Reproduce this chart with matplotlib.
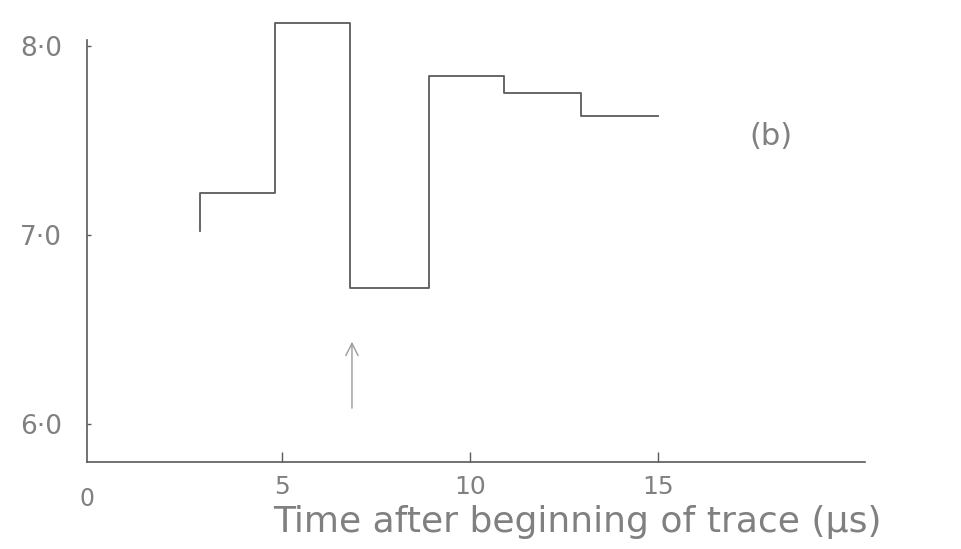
import matplotlib
matplotlib.use("Agg")
import matplotlib.pyplot as plt

# step edges (time, us) and level of each step
edges = [2.8, 4.8, 6.8, 8.9, 10.9, 12.95, 15.0]
levels = [7.22, 8.12, 6.72, 7.84, 7.75, 7.63]
start_level = 7.02

xticks = [5, 10, 15]
xtick_labels = ["5", "10", "15"]
yticks = [6.0, 7.0, 8.0]
ytick_labels = ["6·0", "7·0", "8·0"]

arrow_t = 6.85
arrow_from = 6.07
arrow_to = 6.45

ink = "#5a5a5a"
text_col = "#808080"

fig = plt.figure(figsize=(9.62, 5.49), dpi=100)
ax = fig.add_axes([87 / 962, 1 - 462 / 549, (865 - 87) / 962, (462 - 40) / 549])

# build the step outline
xs = [edges[0]]
ys = [start_level]
for i, lv in enumerate(levels):
    xs += [edges[i], edges[i + 1]]
    ys += [lv, lv]
ax.plot(xs, ys, color=ink, lw=1.3, clip_on=False)

# marker arrow
ax.annotate("", xy=(arrow_t, arrow_to), xytext=(arrow_t, arrow_from),
            arrowprops=dict(arrowstyle="->", color="#9a9a9a", lw=1.0,
                            mutation_scale=22))

ax.text(18.0, 7.52, "(b)", fontsize=22, color=text_col, ha="center", va="center")

ax.set_xlim(-0.2, 20.5)
ax.set_ylim(5.80, 8.03)

ax.spines["top"].set_visible(False)
ax.spines["right"].set_visible(False)
for s in ["left", "bottom"]:
    ax.spines[s].set_color(ink)
    ax.spines[s].set_linewidth(1.2)

ax.set_xticks(xticks)
ax.set_xticklabels(xtick_labels)
ax.set_yticks(yticks)
ax.set_yticklabels(ytick_labels)
ax.tick_params(axis="x", direction="in", length=7, width=1, colors=ink,
               labelcolor=text_col, labelsize=18, pad=9)
ax.tick_params(axis="y", direction="in", length=3, width=1, colors=ink,
               labelcolor=text_col, labelsize=19, pad=18)

# origin label sits under the corner
ax.text(-0.2, 5.67, "0", fontsize=17, color=text_col, ha="center", va="top")

fig.text(577 / 962, 1 - 522 / 549, "Time after beginning of trace (μs)",
         fontsize=26, color=text_col, ha="center", va="center")

fig.savefig("out.png", dpi=100, facecolor="white")
